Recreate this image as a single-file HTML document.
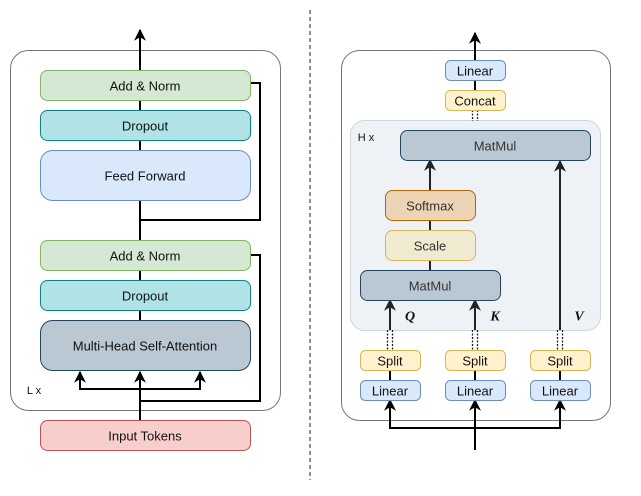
<!DOCTYPE html>
<html><head><meta charset="utf-8"><style>
html,body{margin:0;padding:0;background:#fff;}
svg text{font-family:"Liberation Sans",sans-serif;font-size:13px;fill:#111;text-anchor:middle;dominant-baseline:central;}
</style></head><body>
<svg width="641" height="491" viewBox="0 0 641 491" xmlns="http://www.w3.org/2000/svg">
<defs>
<marker id="a" viewBox="0 0 10 10" refX="9" refY="5" markerWidth="6" markerHeight="6" orient="auto"><path d="M0,0 L10,5 L0,10 L3,5 z" fill="#000"/></marker>
<marker id="b" viewBox="0 0 10 10" refX="9" refY="5" markerWidth="6" markerHeight="6" orient="auto"><path d="M0,0 L10,5 L0,10 L3,5 z" fill="#222"/></marker>
</defs>
<line x1="310" y1="10" x2="310" y2="480" stroke="#555" stroke-width="1.3" stroke-dasharray="4,3"/>
<!-- LEFT -->
<rect x="10.5" y="50.5" width="270" height="360" rx="18" fill="#fff" stroke="#777"/>
<g stroke="#000" stroke-width="2" fill="none">
<line x1="140" y1="420" x2="140" y2="372" marker-end="url(#a)"/>
<polyline points="80,372 80,389 200,389 200,372"/>
<line x1="80" y1="389" x2="80" y2="372" marker-end="url(#a)"/>
<line x1="200" y1="389" x2="200" y2="372" marker-end="url(#a)"/>
<polyline points="250,255 260,255 260,401 140,401"/>
<line x1="140" y1="310" x2="140" y2="320"/>
<line x1="140" y1="270" x2="140" y2="280"/>
<line x1="140" y1="200" x2="140" y2="240"/>
<polyline points="250,83 260,83 260,220 140,220"/>
<line x1="140" y1="140" x2="140" y2="150"/>
<line x1="140" y1="100" x2="140" y2="110"/>
<line x1="140" y1="70" x2="140" y2="30" marker-end="url(#a)"/>
</g>
<rect x="40.5" y="70.5" width="210" height="30" rx="7" fill="#d5e8d4" stroke="#82b366"/><text x="145" y="86">Add &amp; Norm</text>
<rect x="40.5" y="110.5" width="210" height="30" rx="7" fill="#b0e3e6" stroke="#0e8088"/><text x="145" y="126">Dropout</text>
<rect x="40.5" y="150.5" width="210" height="50" rx="12" fill="#dae8fc" stroke="#6c8ebf"/><text x="145" y="176">Feed Forward</text>
<rect x="40.5" y="240.5" width="210" height="30" rx="7" fill="#d5e8d4" stroke="#82b366"/><text x="145" y="256">Add &amp; Norm</text>
<rect x="40.5" y="280.5" width="210" height="30" rx="7" fill="#b0e3e6" stroke="#0e8088"/><text x="145" y="296">Dropout</text>
<rect x="40.5" y="320.5" width="210" height="50" rx="12" fill="#bac8d3" stroke="#23445d"/><text x="145" y="346">Multi-Head Self-Attention</text>
<text x="34" y="391" style="font-size:11px">L x</text>
<rect x="40.5" y="420.5" width="210" height="30" rx="7" fill="#f8cecc" stroke="#b85450"/><text x="145" y="436">Input Tokens</text>
<!-- RIGHT -->
<rect x="341.5" y="50.5" width="269" height="370" rx="18" fill="#fff" stroke="#777"/>
<rect x="350.5" y="120.5" width="250" height="210" rx="14" fill="#eef2f6" stroke="#cdd6dd"/>
<text x="366" y="138" style="font-size:11px">H x</text>
<g stroke="#000" stroke-width="2" fill="none">
<line x1="475" y1="60" x2="475" y2="33" marker-end="url(#a)"/>
<line x1="475" y1="80" x2="475" y2="90"/>
<polyline points="390,428 475,428 560,428"/>
<line x1="475" y1="450" x2="475" y2="400" marker-end="url(#a)"/>
<line x1="390" y1="429" x2="390" y2="400" marker-end="url(#a)"/>
<line x1="560" y1="429" x2="560" y2="400" marker-end="url(#a)"/>
<line x1="390" y1="370" x2="390" y2="380"/>
<line x1="475" y1="370" x2="475" y2="380"/>
<line x1="560" y1="370" x2="560" y2="380"/>
</g>
<g stroke="#222" stroke-width="1.3" stroke-dasharray="2,1.5">
<line x1="472.5" y1="110" x2="472.5" y2="121"/><line x1="477.5" y1="110" x2="477.5" y2="121"/>
<line x1="387.5" y1="330" x2="387.5" y2="350"/><line x1="392.5" y1="330" x2="392.5" y2="350"/>
<line x1="472.5" y1="330" x2="472.5" y2="350"/><line x1="477.5" y1="330" x2="477.5" y2="350"/>
<line x1="557.5" y1="330" x2="557.5" y2="350"/><line x1="562.5" y1="330" x2="562.5" y2="350"/>
</g>
<g stroke="#222" stroke-width="2" fill="none">
<line x1="390" y1="330" x2="390" y2="300" marker-end="url(#b)"/>
<line x1="475" y1="330" x2="475" y2="300" marker-end="url(#b)"/>
<line x1="560" y1="330" x2="560" y2="161" marker-end="url(#b)"/>
<line x1="430" y1="190" x2="430" y2="160" marker-end="url(#b)"/>
<line x1="430" y1="220" x2="430" y2="230"/>
<line x1="430" y1="260" x2="430" y2="270"/>
</g>
<rect x="445.5" y="60.5" width="60" height="20" rx="5" fill="#dae8fc" stroke="#6c8ebf"/><text x="475" y="71">Linear</text>
<rect x="445.5" y="90.5" width="60" height="20" rx="5" fill="#fff2cc" stroke="#d6b656"/><text x="475" y="101">Concat</text>
<rect x="400.5" y="130.5" width="190" height="30" rx="7" fill="#bac8d3" stroke="#23445d"/><text x="495" y="146" style="fill:#333">MatMul</text>
<rect x="385.5" y="190.5" width="90" height="30" rx="7" fill="#edd4b4" stroke="#b46504"/><text x="430" y="206" style="fill:#333">Softmax</text>
<rect x="385.5" y="230.5" width="90" height="30" rx="7" fill="#f0ead0" stroke="#d6b656"/><text x="430" y="246" style="fill:#333">Scale</text>
<rect x="360.5" y="270.5" width="140" height="30" rx="7" fill="#bac8d3" stroke="#23445d"/><text x="430" y="286" style="fill:#333">MatMul</text>
<text x="410" y="317" style="font-family:'Liberation Serif',serif;font-weight:bold;font-style:italic;font-size:14px">Q</text>
<text x="495" y="317" style="font-family:'Liberation Serif',serif;font-weight:bold;font-style:italic;font-size:14px">K</text>
<text x="579" y="317" style="font-family:'Liberation Serif',serif;font-weight:bold;font-style:italic;font-size:14px">V</text>
<rect x="360.5" y="350.5" width="60" height="20" rx="5" fill="#fff2cc" stroke="#d6b656"/><text x="390" y="361">Split</text>
<rect x="445.5" y="350.5" width="60" height="20" rx="5" fill="#fff2cc" stroke="#d6b656"/><text x="475" y="361">Split</text>
<rect x="530.5" y="350.5" width="60" height="20" rx="5" fill="#fff2cc" stroke="#d6b656"/><text x="560" y="361">Split</text>
<rect x="360.5" y="380.5" width="60" height="20" rx="5" fill="#dae8fc" stroke="#6c8ebf"/><text x="390" y="391">Linear</text>
<rect x="445.5" y="380.5" width="60" height="20" rx="5" fill="#dae8fc" stroke="#6c8ebf"/><text x="475" y="391">Linear</text>
<rect x="530.5" y="380.5" width="60" height="20" rx="5" fill="#dae8fc" stroke="#6c8ebf"/><text x="560" y="391">Linear</text>
</svg>
</body></html>
